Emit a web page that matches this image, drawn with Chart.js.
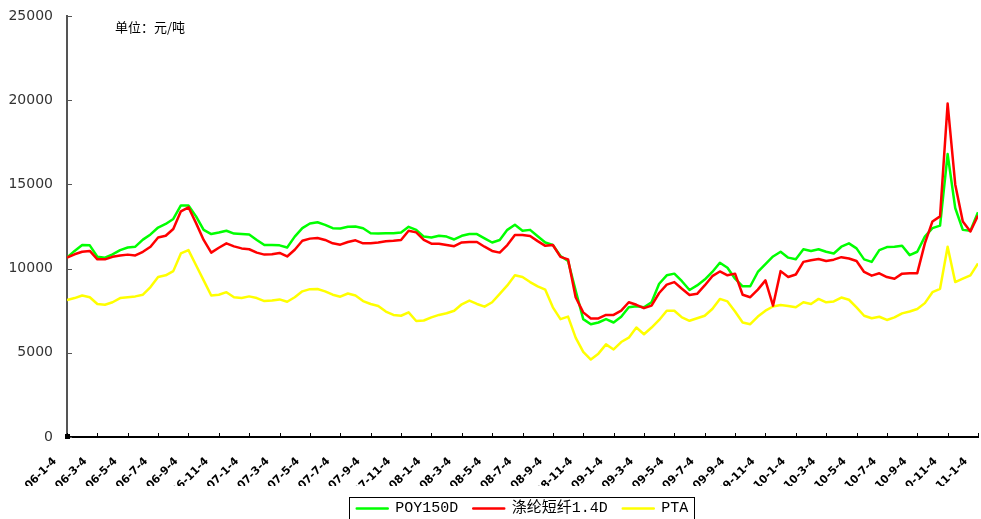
<!DOCTYPE html>
<html>
<head>
<meta charset="utf-8">
<script src="https://cdn.jsdelivr.net/npm/chart.js@4.4.1/dist/chart.umd.min.js"></script>
<style>
  html, body { margin: 0; padding: 0; background: #fff; overflow: hidden; }
  #wrap { width: 981px; height: 526px; position: relative; }
</style>
</head>
<body>
<div id="wrap"><canvas id="chart"></canvas></div>
<script>
// 半月一个点, 06-1-4 起 (索引 0) 到 11-1-4 (索引 120)
const xLabels = [
  '06-1-4', '06-3-4', '06-5-4', '06-7-4', '06-9-4', '06-11-4',
  '07-1-4', '07-3-4', '07-5-4', '07-7-4', '07-9-4', '07-11-4',
  '08-1-4', '08-3-4', '08-5-4', '08-7-4', '08-9-4', '08-11-4',
  '09-1-4', '09-3-4', '09-5-4', '09-7-4', '09-9-4', '09-11-4',
  '10-1-4', '10-3-4', '10-5-4', '10-7-4', '10-9-4', '10-11-4',
  '11-1-4'
];

const unitText = '单位：元/吨';
const seriesNames = ['POY150D', '涤纶短纤1.4D', 'PTA'];

// POY150D
const poy = [
  10650, 11050, 11400, 11380, 10700, 10650, 10850, 11100, 11250, 11300,
  11720, 12030, 12440, 12650, 12950, 13750, 13750, 13100, 12300, 12050,
  12140, 12250, 12080, 12050, 12020, 11700, 11400, 11400, 11380, 11250,
  11900, 12400, 12680, 12750, 12600, 12400, 12380, 12480, 12500, 12400,
  12100, 12080, 12100, 12100, 12150, 12480, 12300, 11900, 11850, 11950,
  11900, 11730, 11950, 12050, 12050, 11800, 11550, 11700, 12300, 12600,
  12250, 12300, 11920, 11550, 11400, 10750, 10450, 8700, 7000, 6700,
  6800, 7000, 6800, 7140, 7700, 7760, 7700, 8000, 9100, 9600,
  9700, 9250, 8730, 9000, 9350, 9800, 10350, 10050, 9400, 8950,
  8950, 9800, 10270, 10720, 11000, 10650, 10550, 11150, 11050, 11150,
  11000, 10900, 11300, 11500, 11200, 10550, 10400, 11100, 11280, 11300,
  11360, 10800, 11000, 11900, 12400, 12550, 16800, 13600, 12300, 12250,
  13350
];

// 涤纶短纤1.4D
const psf = [
  10650, 10850, 11000, 11050, 10550, 10550, 10700, 10780, 10830, 10780,
  11000, 11300, 11850, 11950, 12350, 13400, 13640, 12700, 11700, 10950,
  11240, 11500, 11320, 11200, 11150, 10950, 10830, 10850, 10930, 10720,
  11120, 11650, 11780, 11820, 11700, 11500, 11420, 11580, 11680, 11500,
  11500, 11550, 11620, 11650, 11700, 12250, 12150, 11700, 11480, 11480,
  11400, 11330, 11550, 11580, 11580, 11300, 11050, 10950, 11400, 12000,
  12000, 11940, 11630, 11350, 11400, 10700, 10550, 8300, 7400, 7040,
  7040, 7250, 7250, 7500, 8000, 7850, 7650, 7800, 8550, 9050,
  9200, 8800, 8430, 8500, 9000, 9550, 9830, 9600, 9700, 8450,
  8300, 8750, 9300, 7800, 9850, 9500, 9650, 10400, 10500, 10570,
  10450, 10530, 10680, 10600, 10450, 9800, 9580, 9720, 9500, 9400,
  9700, 9730, 9730, 11500, 12800, 13100, 19800, 15000, 12800, 12200,
  13150
];

// PTA
const pta = [
  8130, 8250, 8400, 8300, 7900, 7850, 8000, 8250, 8300, 8350,
  8450, 8900, 9500, 9600, 9850, 10900, 11100, 10200, 9300, 8400,
  8450, 8600, 8300, 8250, 8350, 8250, 8070, 8100, 8170, 8030,
  8300, 8650, 8780, 8790, 8650, 8450, 8330, 8520, 8400, 8070,
  7900, 7780, 7450, 7250, 7200, 7400, 6890, 6920, 7100, 7250,
  7350, 7500, 7880, 8100, 7900, 7740, 8000, 8500, 9000, 9600,
  9500, 9200, 8950, 8750, 7700, 7000, 7150, 5900, 5050, 4600,
  4950, 5500, 5200, 5640, 5900, 6500, 6100, 6500, 6950, 7500,
  7500, 7100, 6900, 7050, 7200, 7600, 8200, 8050, 7450, 6800,
  6700, 7150, 7500, 7750, 7840, 7780, 7700, 8000, 7900, 8200,
  8000, 8050, 8280, 8150, 7700, 7200, 7050, 7140, 6950, 7100,
  7340, 7450, 7600, 7950, 8600, 8800, 11300, 9200, 9400, 9600,
  10300
];

const toPoints = arr => arr.map((v, i) => ({ x: i, y: v }));

// 内向刻度、原点方块、单位文字、图例边框
const extras = {
  id: 'extras',
  afterDraw(chart) {
    const { ctx, chartArea: a, scales: { x, y } } = chart;
    ctx.save();
    ctx.lineWidth = 1;
    ctx.strokeStyle = '#555';
    y.ticks.forEach(t => {
      const py = Math.round(y.getPixelForValue(t.value)) + 0.5;
      ctx.beginPath();
      ctx.moveTo(a.left, py);
      ctx.lineTo(a.left + 5, py);
      ctx.stroke();
    });
    ctx.strokeStyle = '#000';
    x.ticks.forEach(t => {
      const px = Math.round(x.getPixelForValue(t.value)) + 0.5;
      ctx.beginPath();
      ctx.moveTo(px, a.bottom);
      ctx.lineTo(px, a.bottom - 4);
      ctx.stroke();
    });
    ctx.fillStyle = '#000';
    ctx.fillRect(Math.round(a.left) - 2, Math.round(a.bottom) - 3, 5, 5);

    ctx.font = '13px "Noto Sans CJK SC", sans-serif';
    ctx.textBaseline = 'middle';
    ctx.textAlign = 'left';
    ctx.fillText(unitText, a.left + 48, a.top + 11);

    const hb = chart.legend.legendHitBoxes;
    if (hb && hb.length) {
      const first = hb[0], last = hb[hb.length - 1];
      const left = Math.round(first.left - 8) + 0.5;
      const right = Math.round(last.left + last.width + 6) + 0.5;
      const top = Math.round(first.top - 4) + 0.5;
      ctx.strokeStyle = '#000';
      ctx.strokeRect(left, top, right - left, 30);
    }
    ctx.restore();
  }
};

new Chart(document.getElementById('chart'), {
  type: 'line',
  data: {
    datasets: [
      {
        label: seriesNames[0],
        data: toPoints(poy),
        borderColor: '#00ff00',
        backgroundColor: '#00ff00',
        order: 1
      },
      {
        label: seriesNames[1],
        data: toPoints(psf),
        borderColor: '#ff0000',
        backgroundColor: '#ff0000',
        order: 0
      },
      {
        label: seriesNames[2],
        data: toPoints(pta),
        borderColor: '#ffff00',
        backgroundColor: '#ffff00',
        order: 2
      }
    ]
  },
  options: {
    responsive: true,
    maintainAspectRatio: false,
    animation: false,
    layout: { padding: { top: 16, right: 3, left: 0, bottom: 0 } },
    elements: {
      line: { borderWidth: 2.5, tension: 0, fill: false, borderJoinStyle: 'round' },
      point: { radius: 0, hoverRadius: 0 }
    },
    plugins: {
      tooltip: { enabled: false },
      legend: {
        position: 'bottom',
        fullSize: false,
        labels: {
          color: '#000',
          font: { size: 15, family: '"Liberation Mono", "Noto Sans CJK SC", monospace' },
          boxWidth: 31,
          boxHeight: 0,
          padding: 15,
          sort: (a, b) => a.datasetIndex - b.datasetIndex
        }
      }
    },
    scales: {
      x: {
        type: 'linear',
        min: 0,
        max: 120,
        grid: { drawOnChartArea: false, drawTicks: false },
        border: { color: '#000', width: 2 },
        ticks: {
          stepSize: 4,
          autoSkip: false,
          minRotation: 45,
          maxRotation: 45,
          padding: 18,
          labelOffset: -12,
          color: '#000',
          font: { size: 11, weight: 'bold', family: '"DejaVu Sans"' },
          callback: v => xLabels[v / 4]
        },
        afterFit: s => { s.height = 49; s.paddingLeft = 0; s.paddingRight = 0; }
      },
      y: {
        min: 0,
        max: 25000,
        grid: { drawOnChartArea: false, drawTicks: false },
        border: { color: '#555', width: 2 },
        ticks: {
          stepSize: 5000,
          padding: 14,
          color: '#333',
          font: { size: 14, family: '"DejaVu Sans"' },
          callback: v => String(v)
        },
        afterFit: s => { s.width = 67; s.paddingTop = 0; s.paddingBottom = 0; }
      }
    }
  },
  plugins: [extras]
});
</script>
</body>
</html>
